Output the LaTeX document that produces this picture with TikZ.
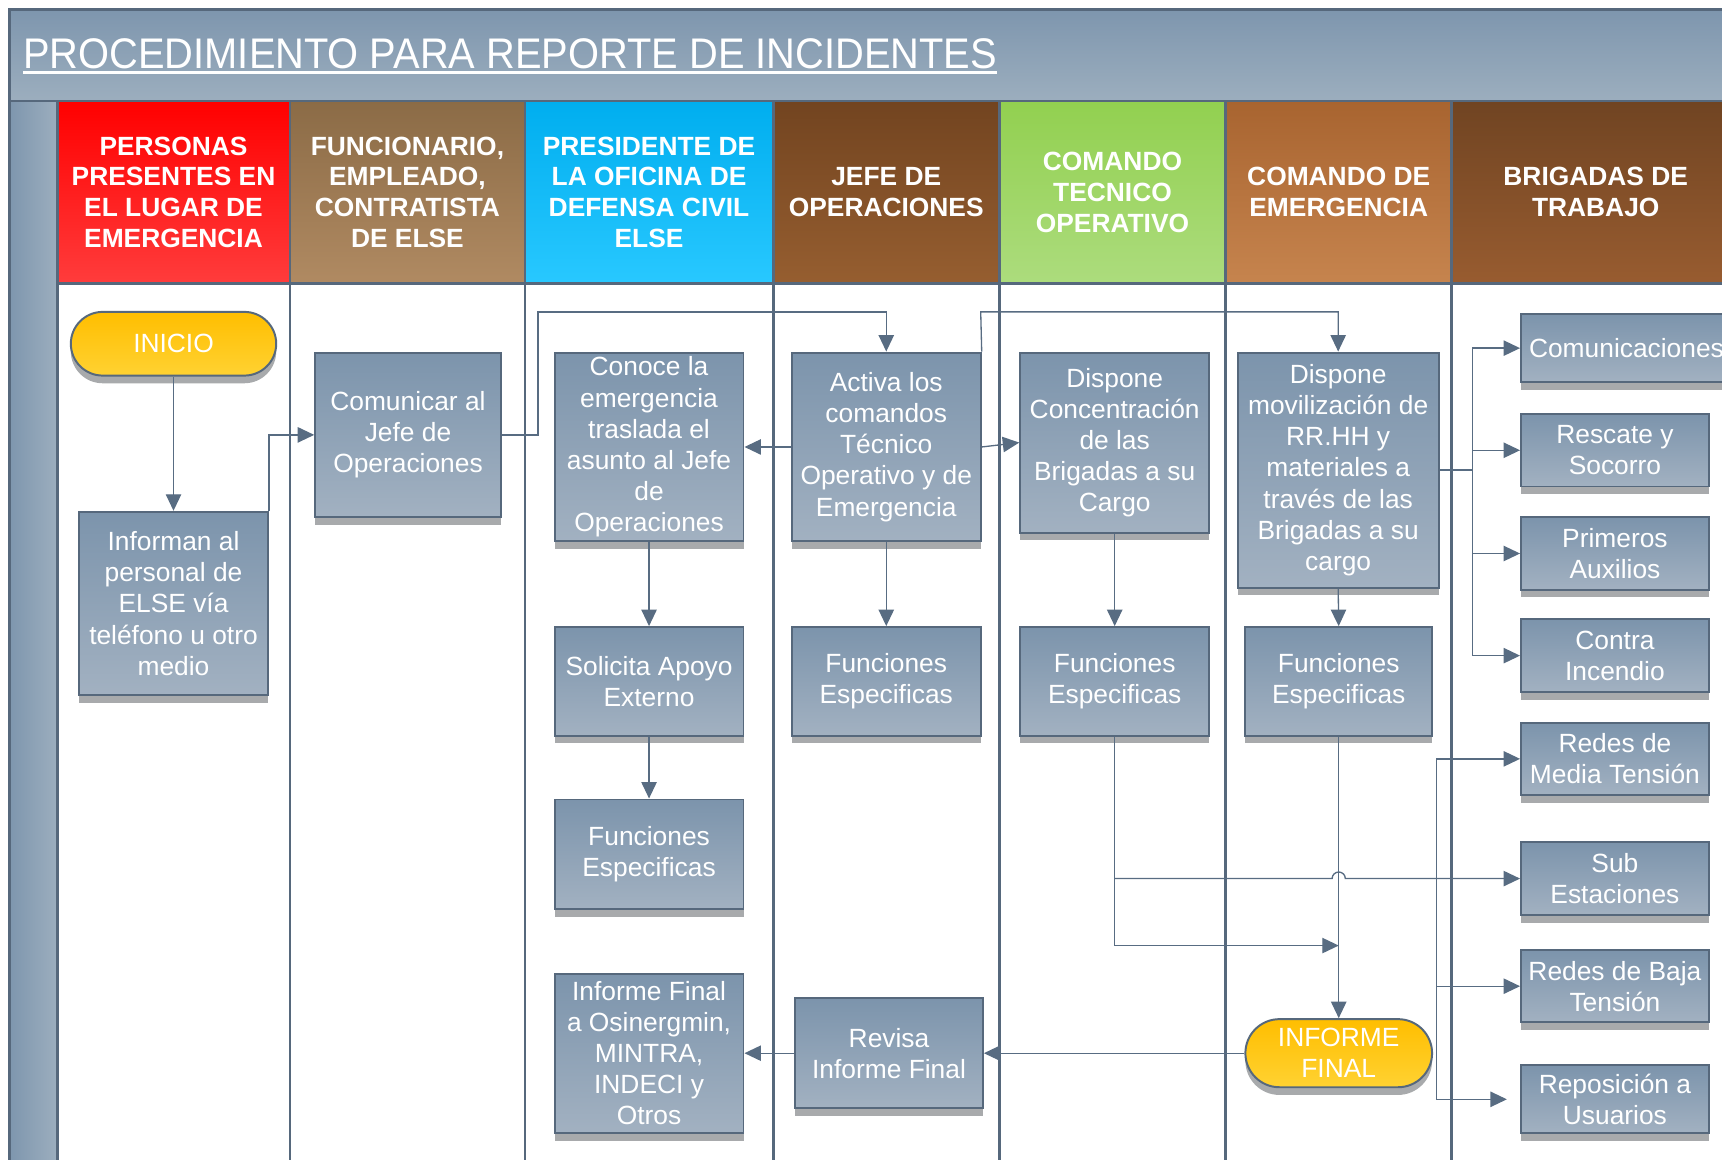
\documentclass[tikz,border=0pt]{standalone}
\usepackage{fontspec}
\setmainfont{Liberation Sans}
\newfontfamily\titlefont[FakeStretch=0.93]{Liberation Sans}
\usetikzlibrary{arrows.meta,shadows}

\definecolor{framec}{RGB}{86,104,124}
\definecolor{connc}{RGB}{88,108,130}
\definecolor{boxtop}{RGB}{124,148,172}
\definecolor{boxbot}{RGB}{162,177,193}
\definecolor{shadowc}{RGB}{168,170,172}
\definecolor{yeltop}{RGB}{255,190,0}
\definecolor{yelbot}{RGB}{255,210,50}
\definecolor{tbtop}{RGB}{126,150,174}
\definecolor{tbbot}{RGB}{156,174,190}
\definecolor{h1t}{RGB}{255,0,0}\definecolor{h1b}{RGB}{255,60,60}
\definecolor{h2t}{RGB}{139,107,70}\definecolor{h2b}{RGB}{176,138,98}
\definecolor{h3t}{RGB}{0,174,239}\definecolor{h3b}{RGB}{40,200,255}
\definecolor{h4t}{RGB}{114,68,32}\definecolor{h4b}{RGB}{150,94,48}
\definecolor{h5t}{RGB}{146,208,80}\definecolor{h5b}{RGB}{172,220,125}
\definecolor{h6t}{RGB}{168,100,48}\definecolor{h6b}{RGB}{198,132,78}
\definecolor{h7t}{RGB}{112,68,34}\definecolor{h7b}{RGB}{152,92,48}

\begin{document}
\begin{tikzpicture}[x=1pt,y=-1pt,
  lane/.style={draw=framec, line width=2.6pt},
  proc/.style={rectangle, draw=framec, line width=1.8pt, top color=boxtop, bottom color=boxbot,
    text=white, align=center, inner sep=0pt, font=\fontsize{24}{28.4}\selectfont,
    drop shadow={shadow xshift=0pt, shadow yshift=-7pt, fill=shadowc, opacity=1}},
  pill/.style={proc, top color=yeltop, bottom color=yelbot},
  head/.style={text=white, align=center, inner sep=0pt, font=\fontsize{24}{28}\selectfont\bfseries},
  line/.style={draw=connc, line width=1.2pt},
  conn/.style={line, -{Triangle[length=15pt,width=14pt]}}
]
\useasboundingbox (0,0) rectangle (1568,1056);
\clip (0,0) rectangle (1568,1056);
\fill[white] (0,0) rectangle (1568,1056);

% title band and left strip
\path[top color=tbtop, bottom color=tbbot] (9,9) rectangle (1600,92);
\path[left color=tbtop, right color=tbbot] (9,92) rectangle (52,1100);

% header cells
\path[top color=h1t, bottom color=h1b] (52,92) rectangle (264,258);
\path[top color=h2t, bottom color=h2b] (264,92) rectangle (478,258);
\path[top color=h3t, bottom color=h3b] (478,92) rectangle (704,258);
\path[top color=h4t, bottom color=h4b] (704,92) rectangle (910,258);
\path[top color=h5t, bottom color=h5b] (910,92) rectangle (1116,258);
\path[top color=h6t, bottom color=h6b] (1116,92) rectangle (1322,258);
\path[top color=h7t, bottom color=h7b] (1322,92) rectangle (1600,258);

% frame lines
\draw[lane] (9,1100) -- (9,9) -- (1600,9);
\draw[lane] (9,92) -- (1600,92);
\draw[lane] (52,258) -- (1600,258);
\foreach \xx in {52,264,478,704,910,1116,1322}
  \draw[lane] (\xx,92) -- (\xx,1100);

% title
\node[anchor=base west, inner sep=0pt, text=white, font=\titlefont\fontsize{39}{44}\selectfont]
  (title) at (21,62) {PROCEDIMIENTO PARA REPORTE DE INCIDENTES};
\draw[white, line width=2.4pt] ([yshift=-4pt]title.base west) -- ([yshift=-4pt]title.base east);

% header texts
\node[head] (h1) at (158,175) {PERSONAS\\PRESENTES EN\\EL LUGAR DE\\EMERGENCIA};
\node[head] (h2) at (371,175) {FUNCIONARIO,\\EMPLEADO,\\CONTRATISTA\\DE ELSE};
\node[head] (h3) at (591,175) {PRESIDENTE DE\\LA OFICINA DE\\DEFENSA CIVIL\\ELSE};
\node[head] (h4) at (807,175) {JEFE DE\\OPERACIONES};
\node[head] (h5) at (1013,175) {COMANDO\\TECNICO\\OPERATIVO};
\node[head] (h6) at (1219,175) {COMANDO DE\\EMERGENCIA};
\node[head] (h7) at (1453,175) {BRIGADAS DE\\TRABAJO};

% process nodes
\node[pill, rounded corners=29pt, minimum width=187pt, minimum height=58pt] (inicio) at (158,313) {INICIO};
\node[proc, minimum width=172pt, minimum height=167pt] (informan) at (158,549.5) {Informan al\\personal de\\ELSE vía\\teléfono u otro\\medio};
\node[proc, minimum width=169pt, minimum height=150pt] (comunicar) at (371.5,396) {Comunicar al\\Jefe de\\Operaciones};
\node[proc, minimum width=172pt, minimum height=172pt] (conoce) at (591,407) {Conoce la\\emergencia\\traslada el\\asunto al Jefe\\de\\Operaciones};
\node[proc, minimum width=172pt, minimum height=172pt] (activa) at (807,407) {Activa los\\comandos\\Técnico\\Operativo y de\\Emergencia};
\node[proc, minimum width=172pt, minimum height=164pt] (concentra) at (1015,403) {Dispone\\Concentración\\de las\\Brigadas a su\\Cargo};
\node[proc, minimum width=183pt, minimum height=214pt] (moviliza) at (1218.5,428) {Dispone\\movilización de\\RR.HH y\\materiales a\\través de las\\Brigadas a su\\cargo};
\node[proc, minimum width=172pt, minimum height=99pt] (solicita) at (591,620.5) {Solicita Apoyo\\Externo};
\node[proc, minimum width=172pt, minimum height=99pt] (func4) at (807,620.5) {Funciones\\Especificas};
\node[proc, minimum width=172pt, minimum height=99pt] (func5) at (1015,620.5) {Funciones\\Especificas};
\node[proc, minimum width=170pt, minimum height=99pt] (func6) at (1219,620.5) {Funciones\\Especificas};
\node[proc, minimum width=172pt, minimum height=100pt] (func3) at (591,778) {Funciones\\Especificas};
\node[proc, minimum width=172pt, minimum height=145pt] (infosin) at (591,959) {Informe Final\\a Osinergmin,\\MINTRA,\\INDECI y\\Otros};
\node[proc, minimum width=171pt, minimum height=100pt] (revisa) at (809.5,959) {Revisa\\Informe Final};
\node[pill, rounded corners=31pt, minimum width=170pt, minimum height=62pt] (inffinal) at (1219,959) {INFORME\\FINAL};

% brigades
\node[proc, minimum width=192pt, minimum height=62pt] (comunic) at (1481,317) {Comunicaciones};
\node[proc, minimum width=171pt, minimum height=66pt] (rescate) at (1470.5,410) {Rescate y\\Socorro};
\node[proc, minimum width=171pt, minimum height=66pt] (primeros) at (1470.5,504) {Primeros\\Auxilios};
\node[proc, minimum width=171pt, minimum height=66pt] (contra) at (1470.5,597) {Contra\\Incendio};
\node[proc, minimum width=171pt, minimum height=66pt] (media) at (1470.5,691) {Redes de\\Media Tensión};
\node[proc, minimum width=171pt, minimum height=66pt] (sub) at (1470.5,800) {Sub\\Estaciones};
\node[proc, minimum width=171pt, minimum height=66pt] (baja) at (1470.5,898) {Redes de Baja\\Tensión};
\node[proc, minimum width=171pt, minimum height=62pt] (repos) at (1470.5,1001) {Reposición a\\Usuarios};

% helper coordinates
\coordinate (c1) at (490,284);
\coordinate (c2) at (893,284);
\coordinate (bus1) at (1341,428);
\coordinate (j1) at (1015,800);
\coordinate (jmp) at (1213,800);
\coordinate (m1) at (1219,861);
\coordinate (bus2) at (1308,800);

% connectors
\draw[conn] (inicio.south) -- (informan.north);
\draw[conn] (informan.north east) |- (comunicar.west);
\draw[conn] (comunicar.east) -| (c1) -| (activa.north);
\draw[conn] (activa.west) -- (conoce.east);
\draw[conn] (activa.east) -- (concentra.west);
\draw[conn] (activa.north east) -- (c2) -| (moviliza.north);
\draw[conn] (conoce.south) -- (solicita.north);
\draw[conn] (solicita.south) -- (func3.north);
\draw[conn] (activa.south) -- (func4.north);
\draw[conn] (concentra.south) -- (func5.north);
\draw[conn] (moviliza.south) -- (func6.north);
\draw[line] (moviliza.east) -- (bus1);
\draw[conn] (bus1) |- (comunic.west);
\draw[conn] (bus1) |- (rescate.west);
\draw[conn] (bus1) |- (primeros.west);
\draw[conn] (bus1) |- (contra.west);
\draw[line] (func5.south) -- (j1);
\draw[conn] (j1) |- (m1);
\draw[conn] (j1) -- (jmp) arc[start angle=180, end angle=0, radius=6pt] -- (sub.west);
\draw[conn] (bus2) |- (media.west);
\draw[conn] (bus2) |- (baja.west);
\draw[conn, shorten >=12pt] (bus2) |- (repos.west);
\draw[conn] (func6.south) -- (inffinal.north);
\draw[conn] (inffinal.west) -- (revisa.east);
\draw[conn] (revisa.west) -- (infosin.east);
\end{tikzpicture}
\end{document}
